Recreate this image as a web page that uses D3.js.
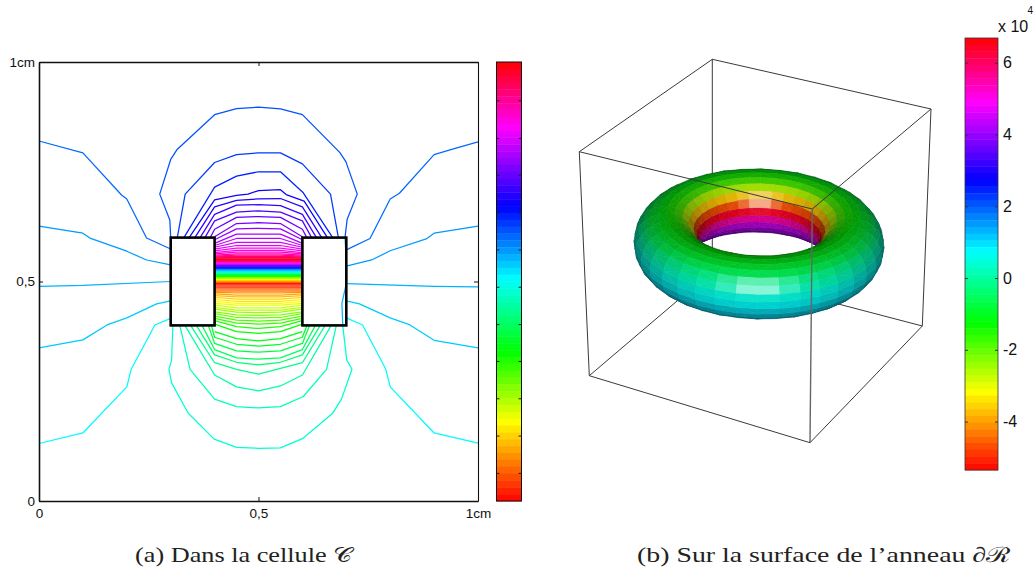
<!DOCTYPE html>
<html><head><meta charset="utf-8">
<script src="https://cdn.jsdelivr.net/npm/d3@7/dist/d3.min.js"></script>
<style>html,body{margin:0;padding:0;background:#fff;overflow:hidden}svg{display:block}</style>
</head><body><svg id="c" width="1034" height="570"></svg>
<script>
// ---------- colour bar ----------
const levelCount = d3.range(64);
const colorStops = [0, .15, .33, .495, .66, .82, 1];
const colorNames = ["#ff0000", "#ff00ff", "#0000ff", "#00ffff", "#00ff00", "#ffff00", "#ff0000"];
const leftBarTicks = [.064, .149, .234, .319, .403, .488, .573, .657, .743, .827, .913];
const rightBarDomain = [-5.35, 6.69];
const rightBarTicks = [-4, -2, 0, 2, 4, 6];
const axisTicks = [0, .5, 1];
const axisLabels = ["0", "0,5", "1cm"];

// ---------- cell blocks (cm) ----------
const blockXs = [[.3, .4], [.6, .7]];
const blockY = [.4, .6];

// ---------- free contours: [colour level, [x,y]...] ----------
const sideContours = [
 [25, [[0,.820],[.1,.793],[.188,.697],[.2,.688],[.245,.599],[.3,.574]]],
 [25, [[.7,.572],[.754,.598],[.8,.688],[.821,.701],[.9,.789],[.944,.802],[1,.818]]],
 [27, [[0,.626],[.1,.610],[.116,.599],[.2,.569],[.245,.549],[.3,.538]]],
 [27, [[.7,.535],[.76,.550],[.8,.570],[.882,.597],[.9,.610],[1,.626]]],
 [28, [[0,.489],[.1,.491],[.3,.500]]],
 [28, [[.7,.495],[.9,.489],[1,.488]]],
 [28, [[.697,.600],[.701,.530],[.701,.500],[.690,.450],[.692,.400]]],
 [29, [[0,.349],[.1,.367],[.155,.401],[.2,.417],[.268,.449],[.3,.456]]],
 [29, [[.7,.456],[.73,.449],[.8,.417],[.845,.401],[.9,.366],[1,.349]]],
 [31, [[0,.131],[.1,.155],[.2,.260],[.21,.300],[.264,.401],[.3,.416]]],
 [31, [[.7,.417],[.737,.401],[.79,.300],[.8,.260],[.9,.155],[1,.132]]]
];
const upperArcs = [
 [24, [[.300,.600],[.298,.640],[.275,.699],[.300,.778],[.314,.800],[.40,.880],[.45,.894],[.5,.897],[.55,.893],[.60,.880],[.685,.794],[.699,.773],[.725,.699],[.702,.642],[.697,.600]]],
 [23, [[.315,.600],[.333,.699],[.40,.771],[.45,.789],[.5,.793],[.55,.793],[.60,.768],[.664,.699],[.682,.600]]],
 [22, [[.330,.600],[.40,.715],[.45,.740],[.5,.750],[.55,.750],[.602,.702],[.669,.600]]],
 [20, [[.342,.600],[.40,.686],[.45,.696],[.476,.699],[.5,.707],[.55,.709],[.563,.698],[.604,.683],[.657,.600]]],
 [19, [[.355,.600],[.40,.670],[.45,.685],[.5,.688],[.55,.689],[.60,.670],[.644,.600]]],
 [18, [[.367,.600],[.40,.653],[.45,.674],[.5,.675],[.55,.673],[.60,.653],[.632,.600]]],
 [17, [[.378,.600],[.40,.638],[.45,.658],[.5,.661],[.55,.658],[.60,.638],[.621,.600]]],
 [16, [[.390,.600],[.40,.619],[.45,.646],[.5,.648],[.55,.646],[.60,.619],[.610,.600]]]
];
const lowerArcs = [
 [33, [[.305,.399],[.302,.321],[.296,.300],[.302,.269],[.340,.200],[.399,.141],[.45,.122],[.5,.120],[.55,.121],[.60,.142],[.669,.200],[.689,.232],[.713,.300],[.701,.321],[.692,.399]]],
 [34, [[.321,.399],[.344,.300],[.40,.232],[.45,.215],[.5,.212],[.55,.215],[.602,.238],[.655,.300],[.677,.399]]],
 [35, [[.333,.399],[.40,.287],[.45,.260],[.5,.251],[.55,.262],[.60,.287],[.665,.399]]],
 [36, [[.346,.399],[.40,.315],[.45,.300],[.5,.289],[.55,.302],[.60,.315],[.651,.399]]],
 [37, [[.359,.399],[.40,.333],[.45,.316],[.5,.310],[.55,.316],[.60,.333],[.640,.399]]],
 [38, [[.372,.399],[.40,.345],[.45,.326],[.5,.323],[.55,.326],[.60,.345],[.629,.399]]],
 [39, [[.386,.399],[.40,.359],[.45,.342],[.5,.339],[.55,.342],[.60,.359],[.616,.399]]],
 [40, [[.393,.399],[.40,.373],[.45,.357],[.5,.353],[.55,.357],[.60,.373],[.610,.399]]]
];

// ---------- contours spanning the gap: y at x = innerX ----------
const innerX = [.4, .45, .5, .55, .6];
const gapLevels = [15,14,13,12,11,10,9,8,7,6,5,4,3,2,1,0,
                   41,42,43,44,45,46,47,48,49,50,51,52,53,54,55,56,57,58,59,60,61,62,63];
const gapEdgeY = [.602,.595,.587,.582,.578,.574,.570,.566,.563,.560,.558,.556,.554,.553,.551,.550,
                  .386,.403,.411,.416,.421,.427,.431,.437,.441,.446,.450,.455,.459,.464,.468,.472,.475,.478,.481,.485,.487,.490,.494];
const gapInnerY = [.632,.620,.608,.598,.589,.582,.576,.571,.567,.563,.560,.557,.555,.553,.551,.550,
                   .370,.386,.397,.405,.412,.418,.424,.430,.435,.440,.446,.450,.455,.460,.465,.469,.474,.478,.481,.485,.487,.490,.494];
const gapMidY = [.634,.621,.608,.598,.589,.582,.576,.571,.567,.563,.560,.557,.555,.553,.551,.550,
                 .365,.382,.393,.403,.410,.417,.423,.429,.435,.440,.446,.450,.455,.460,.465,.469,.474,.478,.481,.485,.487,.490,.494];

// steep rainbow band between the two blocks
const bandLevels = [0,2,4,6,8,10,12,14,16,18,20,22,24,26,28,30,32,34,36,38,40,42,44,46,48,50,52,54,56,58,60,62];
const bandY = [.549,.547,.545,.544,.542,.540,.538,.537,.535,.533,.531,.530,.528,.526,.524,.523,.521,.519,.517,.516,.514,.512,.510,.509,.507,.505,.503,.502,.500,.498,.496,.495];

// ---------- ring surface: colour-bar position read along the tube section ----------
const tubeDeg =       [-180,-120,-90,-60,-30,  0, 30, 60, 90,118,130,145,160,172,182,192,205,240];
const tubeBackWall =  [1.22, .47,.47,.47,.48,.50,.55,.62,.66,.72,.79,.87,.96,1.02,1.07,1.13,1.19,1.22];
const tubeFrontWall = [ .66, .47,.47,.47,.48,.50,.55,.62,.65,.66,.66,.66,.66,.66,.66,.66,.66,.66];

// ---------- wire box: screen anchors of the view ----------
const cubeCorners = {A:[712.3,59.3],B:[931,109],C:[812.3,209],D:[579.3,151.7],E:[712.3,271],F:[589.3,375.7],G:[810,442.7],H:[922.3,326]};
const cubeBackEdges = ["AD","AB","AE","EF","EH","DF","BH"];
const cubeFrontEdges = ["DC","CB","CG","FG","GH"];

// ---------- captions ----------
const captionA = "(a) Dans la cellule \u{1D49E}";
const captionB = "(b) Sur la surface de l\u2019anneau \u2202\u211B";

const svg = d3.select("#c");
const SANS = "'Liberation Sans',Arial,sans-serif";
const SERIF = "'Liberation Serif','DejaVu Serif',serif";

const cmap = d3.scaleLinear().domain(colorStops).range(colorNames).clamp(true);
const levelColor = i => cmap((i + .5) / 64);

// ===== left panel =====
const x = d3.scaleLinear().domain([0, 1]).range([39, 478]);
const y = d3.scaleLinear().domain([0, 1]).range([501, 62]);
const line = d3.line().x(d => x(d[0])).y(d => y(d[1]));
const left = svg.append("g");

left.selectAll("rect.b").data(blockXs).join("rect").attr("class","b")
  .attr("x", d => x(d[0])).attr("width", d => x(d[1]) - x(d[0]))
  .attr("y", y(blockY[1])).attr("height", y(blockY[0]) - y(blockY[1])).attr("fill", "#fff");

const gapContours = gapLevels.map((lv, i) => [lv, innerX.map((px, j) =>
  [px, j === 2 ? gapMidY[i] : (j === 0 || j === 4) ? gapEdgeY[i] : gapInnerY[i]])]);
const bandContours = bandLevels.map((lv, i) => [lv, [[.4, bandY[i]], [.6, bandY[i]]]]);
const allContours = [...sideContours, ...upperArcs, ...lowerArcs, ...gapContours];

left.append("g").selectAll("path").data(bandContours).join("path")
  .attr("d", d => line(d[1])).attr("fill", "none").attr("stroke", d => levelColor(d[0])).attr("stroke-width", 1.3);
left.append("g").selectAll("path").data(allContours).join("path")
  .attr("d", d => line(d[1])).attr("fill", "none").attr("stroke", d => levelColor(d[0]))
  .attr("stroke-width", 1.25).attr("stroke-linejoin", "round");

left.selectAll("rect.o").data(blockXs).join("rect").attr("class","o")
  .attr("x", d => x(d[0])).attr("width", d => x(d[1]) - x(d[0]))
  .attr("y", y(blockY[1])).attr("height", y(blockY[0]) - y(blockY[1]))
  .attr("fill", "none").attr("stroke", "#000").attr("stroke-width", 2.6);

const fmt = d => axisLabels[axisTicks.indexOf(d)];
function styleAxis(g, w) {
  g.selectAll("path.domain").attr("stroke", "#111").attr("stroke-width", w);
  g.selectAll("line").attr("stroke", "#111").attr("stroke-width", 1);
  g.selectAll("text").attr("font-family", SANS).attr("font-size", 13.5).attr("fill", "#111");
}
left.append("g").attr("transform", "translate(0,501)")
  .call(d3.axisBottom(x).tickValues(axisTicks).tickFormat(fmt).tickSize(-4).tickSizeOuter(0).tickPadding(7)).call(styleAxis, 1.5);
left.append("g").attr("transform", "translate(39,0)")
  .call(d3.axisLeft(y).tickValues(axisTicks).tickFormat(fmt).tickSize(-4).tickSizeOuter(0).tickPadding(4)).call(styleAxis, 1.6);
left.append("g").attr("transform", "translate(0,62)")
  .call(d3.axisTop(x).tickValues(axisTicks).tickFormat("").tickSize(-4).tickSizeOuter(0)).call(styleAxis, 1.5);
left.append("g").attr("transform", "translate(478,0)")
  .call(d3.axisRight(y).tickValues(axisTicks).tickFormat("").tickSize(-4).tickSizeOuter(0)).call(styleAxis, 1.1);

// left colour bar
const barL = d3.scaleBand().domain(levelCount).range([62, 501]);
const barLy = d3.scaleLinear().domain([0, 1]).range([501, 62]);
svg.append("g").selectAll("rect").data(levelCount).join("rect")
  .attr("x", 496.5).attr("width", 25).attr("y", d => barL(d)).attr("height", barL.bandwidth() + .4)
  .attr("fill", levelColor);
svg.append("rect").attr("x", 496.5).attr("y", 62).attr("width", 25).attr("height", 439)
  .attr("fill", "none").attr("stroke", "#111").attr("stroke-width", 1);
svg.append("g").attr("transform", "translate(496.5,0)")
  .call(d3.axisRight(barLy).tickValues(leftBarTicks).tickFormat("").tickSize(3).tickSizeOuter(0))
  .call(g => g.select(".domain").remove()).selectAll("line").attr("stroke", "#222");
svg.append("g").attr("transform", "translate(521.5,0)")
  .call(d3.axisLeft(barLy).tickValues(leftBarTicks).tickFormat("").tickSize(3).tickSizeOuter(0))
  .call(g => g.select(".domain").remove()).selectAll("line").attr("stroke", "#222");

// ===== right panel: wire box =====
const right = svg.append("g");
const edgeLine = d3.line();
const drawEdges = (edges) => right.append("g").selectAll("path").data(edges).join("path")
  .attr("d", e => edgeLine([cubeCorners[e[0]], cubeCorners[e[1]]]))
  .attr("fill", "none").attr("stroke", e => e === "CG" ? "#666" : "#3a3a3a").attr("stroke-width", e => e === "CG" ? 1.4 : 1);
drawEdges(cubeBackEdges);

// ===== ring =====
const majorR = 93.5, minorR = 31.5, tilt = 27.7 * Math.PI / 180, roll = 1.5 * Math.PI / 180;
const ringCx = 759, ringCy = 244;
const backScale = d3.scaleLinear().domain(tubeDeg).range(tubeBackWall).clamp(true);
const frontScale = d3.scaleLinear().domain(tubeDeg).range(tubeFrontWall).clamp(true);
const nPhi = d3.range(36), nPsi = d3.range(24);
function vert(i, j) {
  const ph = i / nPhi.length * 2 * Math.PI, ps = j / nPsi.length * 2 * Math.PI;
  const rad = majorR + minorR * Math.cos(ps);
  const X = rad * Math.cos(ph), Y = rad * Math.sin(ph), Z = minorR * Math.sin(ps);
  const sx = X, sy = Y * Math.sin(tilt) - Z * Math.cos(tilt), dz = Y * Math.cos(tilt) + Z * Math.sin(tilt);
  return [sx * Math.cos(roll) - sy * Math.sin(roll), sx * Math.sin(roll) + sy * Math.cos(roll), dz];
}
const sxScale = d3.scaleLinear().domain([-1, 1]).range([ringCx - 1, ringCx + 1]);
const syScale = d3.scaleLinear().domain([-1, 1]).range([ringCy - 1, ringCy + 1]);
const frontWeight = d3.scaleLinear().domain([-.05, .7]).range([0, 1]).clamp(true);
const tris = [];
nPhi.forEach(i => nPsi.forEach(j => {
  const a = vert(i, j), b = vert(i + 1, j), c = vert(i + 1, j + 1), d = vert(i, j + 1);
  const faces = (i + j) % 2 ? [[a, b, c], [a, c, d]] : [[a, b, d], [b, c, d]];
  let psiDeg = (j + .5) / nPsi.length * 360; if (psiDeg > 240) psiDeg -= 360;
  const phi = (i + .5) / nPhi.length * 2 * Math.PI;
  const w = frontWeight(Math.sin(phi));
  const pos = backScale(psiDeg) * (1 - w) + frontScale(psiDeg) * w;
  faces.forEach(f => {
    const u = [f[1][0]-f[0][0], f[1][1]-f[0][1], f[1][2]-f[0][2]];
    const v = [f[2][0]-f[0][0], f[2][1]-f[0][1], f[2][2]-f[0][2]];
    const n = [u[1]*v[2]-u[2]*v[1], u[2]*v[0]-u[0]*v[2], u[0]*v[1]-u[1]*v[0]];
    const len = Math.hypot(...n) || 1;
    tris.push({f, ndv: n[2] / len, pos, centerDepth: (f[0][2] + f[1][2] + f[2][2]) / 3});
  });
}));
const sign = (() => {
  const p = vert(9, 0), q = vert(10, 0), r = vert(9, 1);
  const u=[q[0]-p[0],q[1]-p[1],q[2]-p[2]], v=[r[0]-p[0],r[1]-p[1],r[2]-p[2]];
  return (u[0]*v[1]-u[1]*v[0]) > 0 ? 1 : -1;
})();
const visible = tris.map(t => ({...t, nd: t.ndv * sign})).filter(t => t.nd > 0).sort((a, b) => a.centerDepth - b.centerDepth);
function shade(t) {
  const base = d3.rgb(cmap(((t.pos % 1) + 1) % 1));
  const k = .34 + .58 * t.nd;
  const spec = Math.pow(t.nd, 38) * .7;
  const mix = c => Math.min(255, c * k * (1 - spec) + 255 * spec);
  return d3.rgb(mix(base.r), mix(base.g), mix(base.b)).formatHex();
}
const triLine = d3.line().x(p => sxScale(p[0])).y(p => syScale(p[1])).curve(d3.curveLinearClosed);
right.append("g").selectAll("path").data(visible).join("path")
  .attr("d", t => triLine(t.f))
  .attr("fill", shade).attr("stroke", shade).attr("stroke-width", .6).attr("stroke-linejoin", "round");
drawEdges(cubeFrontEdges);

// right colour bar
const barR = d3.scaleBand().domain(levelCount).range([38, 470]);
const barRy = d3.scaleLinear().domain(rightBarDomain).range([470, 38]);
svg.append("g").selectAll("rect").data(levelCount).join("rect")
  .attr("x", 965).attr("width", 33).attr("y", d => barR(d)).attr("height", barR.bandwidth() + .4)
  .attr("fill", levelColor);
svg.append("rect").attr("x", 965).attr("y", 38).attr("width", 33).attr("height", 432)
  .attr("fill", "none").attr("stroke", "#333").attr("stroke-width", .8);
const rAxis = svg.append("g").attr("transform", "translate(998,0)")
  .call(d3.axisRight(barRy).tickValues(rightBarTicks).tickFormat(d => d).tickSize(0).tickSizeOuter(0).tickPadding(5));
rAxis.select(".domain").remove();
rAxis.selectAll("text").attr("font-family", SANS).attr("font-size", 16).attr("fill", "#111");
[[965, 3], [998, -3]].forEach(([px, s]) => svg.append("g").attr("transform", `translate(${px},0)`)
  .call(d3.axisRight(barRy).tickValues(rightBarTicks).tickFormat("").tickSize(s).tickSizeOuter(0))
  .call(g => g.select(".domain").remove()).selectAll("line").attr("stroke", "#333"));
svg.append("text").attr("x", 998).attr("y", 32).attr("font-family", SANS).attr("font-size", 16).attr("fill", "#111").text("x 10");
svg.append("text").attr("x", 1027.5).attr("y", 14).attr("font-family", SANS).attr("font-size", 10).attr("fill", "#111").text("4");

// captions
svg.append("text").attr("x", 135).attr("y", 562).attr("font-family", SERIF).attr("font-size", 21).attr("fill", "#222")
  .attr("textLength", 217).attr("lengthAdjust", "spacingAndGlyphs").text(captionA);
svg.append("text").attr("x", 637).attr("y", 562).attr("font-family", SERIF).attr("font-size", 21).attr("fill", "#222")
  .attr("textLength", 373).attr("lengthAdjust", "spacingAndGlyphs").text(captionB);
</script></body></html>
